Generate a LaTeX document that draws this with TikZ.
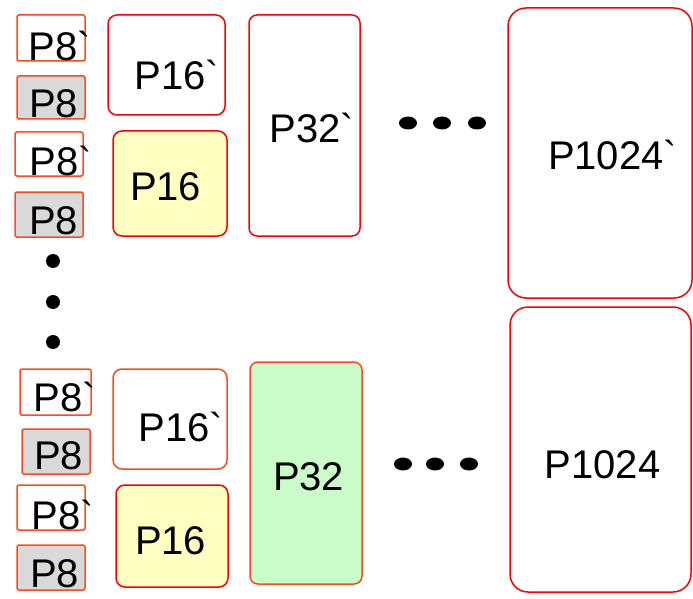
\documentclass[tikz,border=0pt]{standalone}
\usepackage{fontspec}
\setmainfont{Liberation Sans}
\usepackage{tikz}
\definecolor{orred}{HTML}{FF4A1C}
\definecolor{grey8}{HTML}{D9D9D9}
\definecolor{yel16}{HTML}{FFFFC2}
\definecolor{grn32}{HTML}{C9FCC9}
\newcommand\grv{\textasciigrave}
\tikzset{
  txt/.style={font=\fontsize{40}{44}\selectfont, inner sep=0pt},
  blk/.style={draw=red, line width=1.5pt, inner sep=0pt},
  sz/.style args={#1/#2}{minimum width=#1pt, minimum height=#2pt},
  tx/.style args={#1/#2/#3}{label={[txt,xshift=#1pt,yshift=-#2pt]center:#3}},
  p8/.style={blk, draw=orred, rounded corners=2pt},
  p8g/.style={p8, fill=grey8},
  p16/.style={blk, rounded corners=9pt},
  p16y/.style={p16, fill=yel16},
  p32/.style={blk, rounded corners=8pt},
  p32g/.style={p32, draw=orred, fill=grn32},
  p1k/.style={blk, rounded corners=18pt}
}

\begin{document}
\begin{tikzpicture}[x=1pt,y=-1pt]
\useasboundingbox (0,0) rectangle (693,599);
\node[p8, sz=68/46, tx=9/8/P8\grv] (a1) at (51,38) {};
\node[p8g, sz=68/43, tx=2.5/6.5/P8] (a2) at (51,97.5) {};
\node[p8, sz=68/44, tx=12/7/P8\grv] (a3) at (49,154) {};
\node[p8g, sz=68/45, tx=4.5/6.5/P8] (a4) at (49,214.5) {};
\node[p16, sz=117/100, tx=10.5/10/P16\grv] (b1) at (166.5,65) {};
\node[p16y, sz=114/105, tx=-4.4/3.5/P16] (b2) at (170,183.5) {};
\node[p32, sz=111/221, tx=7.5/2.5/P32\grv] (c1) at (304.5,125.5) {};
\node[p1k, sz=184/290, tx=12.5/2/P1024\grv] (d1) at (600,153) {};

\node[p8, sz=71/46, tx=9.5/5/P8\grv] (a5) at (55.5,392) {};
\node[p8g, sz=68/45, tx=2.5/4.5/P8] (a6) at (56,451.5) {};
\node[p8, sz=68/45, tx=12/7.5/P8\grv] (a7) at (51,507.5) {};
\node[p8g, sz=68/45, tx=3.5/6.5/P8] (a8) at (51,567.5) {};
\node[p16, draw=orred, sz=114/100, tx=11/8/P16\grv] (b3) at (170,419) {};
\node[p16y, sz=112/102, tx=-1.4/5/P16] (b4) at (172,536) {};
\node[p32g, sz=112/222, tx=2.6/4/P32] (c2) at (306,473) {};
\node[p1k, sz=181/285, tx=2/15/P1024] (d2) at (600.5,449.5) {};

\foreach \x in {408,442,477} \fill (\x,123) ellipse (9pt and 6.5pt);
\foreach \x in {403,435,469} \fill (\x,464) ellipse (9pt and 6.5pt);
\foreach \y in {261,302,342} \fill (53,\y) circle (7pt);
\end{tikzpicture}
\end{document}
